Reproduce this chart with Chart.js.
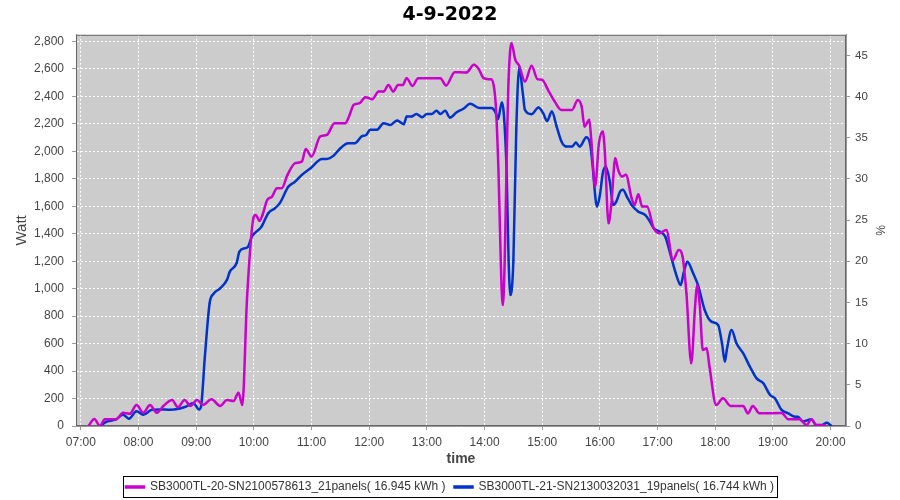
<!DOCTYPE html>
<html>
<head>
<meta charset="utf-8">
<script src="https://cdn.jsdelivr.net/npm/chart.js@4.4.1/dist/chart.umd.min.js"></script>
<style>
  html, body { margin: 0; padding: 0; background: #fff; }
  #wrap { width: 900px; height: 500px; }
</style>
</head>
<body>
<div id="wrap"><canvas id="chart" width="900" height="500"></canvas></div>
<script>
// minutes since midnight / watt
const timesA = [428,434,440,445,457,464,471,478,485,492,499,506,515,521,528,534,541,547,556,565,572,579,584,588,593,600,602,606,609,614,619,624,629,635,643,650,654,660,669,676,684,695,699,704,710,716,723,730,735,740,745,750,755,759,765,771,794,800,809,821,829,834,839,844,847,850,852,854,859,865,868,872,876,882,889,895,900,906,913,920,931,937,941,944,949,951,955,959,963,965,969,972,976,979,983,987,993,996,1000,1004,1009,1016,1022,1029,1036,1042,1046,1050,1055,1059,1061,1064,1067,1071,1074,1081,1088,1096,1109,1114,1119,1126,1149,1156,1168,1175,1180,1185,1194];
const wattsA = [0,51,0,50,50,97,90,153,97,153,97,146,189,136,189,146,189,153,194,146,189,182,243,153,942,1525,1537,1494,1537,1647,1671,1732,1732,1829,1914,1926,2018,1962,2108,2120,2205,2205,2254,2339,2351,2395,2380,2436,2436,2484,2436,2484,2484,2533,2477,2533,2533,2480,2577,2574,2630,2599,2533,2526,2526,2460,2302,1962,882,2521,2788,2667,2623,2509,2623,2526,2521,2448,2363,2302,2302,2375,2327,2181,2230,2084,1744,2060,2145,2011,1477,1623,1950,1865,1817,1829,1659,1610,1688,1598,1598,1440,1404,1428,1209,1282,1234,967,457,869,1027,869,554,566,432,153,202,146,146,92,146,92,95,49,49,7,49,7,5];

const timesB = [440,447,456,464,470,478,485,494,503,513,523,530,537,543,545,549,554,558,565,572,575,582,585,591,594,598,608,615,622,627,636,643,650,659,671,676,683,690,698,705,712,717,721,728,735,742,749,756,759,764,769,775,780,785,790,794,799,804,811,818,825,835,847,851,854,858,860,863,865,867,870,873,876,880,882,889,896,901,905,910,915,920,925,931,935,939,946,950,952,957,960,963,966,970,974,977,981,984,988,993,1000,1007,1012,1016,1022,1028,1033,1040,1044,1047,1051,1057,1062,1069,1076,1083,1087,1090,1092,1097,1102,1109,1116,1123,1130,1137,1142,1149,1156,1163,1166,1171,1180,1185,1191,1196,1201];
const wattsB = [0,32,46,82,53,107,82,118,121,118,128,143,168,121,140,500,894,962,1003,1064,1124,1185,1270,1295,1306,1380,1452,1550,1586,1623,1744,1780,1829,1877,1945,1945,1969,2023,2060,2060,2108,2120,2157,2157,2205,2193,2225,2198,2254,2254,2273,2249,2273,2273,2295,2273,2295,2246,2285,2310,2346,2315,2315,2290,2235,2356,2278,1841,1209,954,1209,2157,2606,2412,2302,2271,2319,2278,2222,2290,2181,2072,2035,2035,2064,2035,2103,2047,1926,1598,1683,1841,1889,1792,1610,1634,1707,1720,1671,1610,1561,1537,1489,1440,1416,1379,1258,1088,1027,1112,1197,1112,1027,845,760,736,602,469,554,700,602,530,432,347,311,226,202,117,92,68,68,32,49,7,7,24,0];

const labelA = 'SB3000TL-20-SN2100578613_21panels( 16.945 kWh )';
const labelB = 'SB3000TL-21-SN2130032031_19panels( 16.744 kWh )';
const hourTicks = [420,480,540,600,660,720,780,840,900,960,1020,1080,1140,1200];
const wattTicks = [0,200,400,600,800,1000,1200,1400,1600,1800,2000,2200,2400,2600,2800];
const pctTicks = [0,5,10,15,20,25,30,35,40,45];

const MAGENTA = '#cc00cc';
const BLUE = '#0033cc';
const FONT = 'Liberation Sans';

function zip(xs, ys) {
    return xs.map((x, i) => ({ x: x, y: ys[i] }));
}

function hhmm(v) {
    const h = Math.floor(v / 60);
    const m = v % 60;
    return String(h).padStart(2, '0') + ':' + String(m).padStart(2, '0');
}

// plot background + border, legend frame
const jfreePlot = {
    id: 'jfreePlot',
    beforeDraw(chart) {
        const { ctx, chartArea: a } = chart;
        ctx.save();
        ctx.fillStyle = '#cccccc';
        ctx.fillRect(a.left, a.top, a.right - a.left, a.bottom - a.top);
        ctx.restore();
    },
    beforeDatasetsDraw(chart) {
        const { ctx, chartArea: a } = chart;
        ctx.save();
        ctx.strokeStyle = '#666666';
        ctx.lineWidth = 1;
        ctx.strokeRect(a.left + 0.5, a.top + 0.5, a.right - a.left - 1, a.bottom - a.top - 1);
        ctx.restore();
    },
    afterDraw(chart) {
        const boxes = chart.legend.legendHitBoxes;
        if (!boxes || !boxes.length) return;
        let l = Infinity, r = -Infinity, t = Infinity, b = -Infinity;
        boxes.forEach(h => {
            l = Math.min(l, h.left); r = Math.max(r, h.left + h.width);
            t = Math.min(t, h.top); b = Math.max(b, h.top + h.height);
        });
        const ctx = chart.ctx;
        ctx.save();
        ctx.strokeStyle = '#000';
        ctx.lineWidth = 1;
        ctx.strokeRect(Math.round(l - 3) + 0.5, Math.round(t - 5) + 0.5, Math.round(r - l + 6), Math.round(b - t + 9));
        ctx.restore();
    }
};

const ctx = document.getElementById('chart');
const chart = new Chart(ctx, {
    type: 'line',
    data: {
        datasets: [
            {
                label: labelA,
                data: zip(timesA, wattsA),
                borderColor: MAGENTA,
                backgroundColor: MAGENTA,
                borderWidth: 2.5,
                pointRadius: 1,
                pointBorderWidth: 0,
                cubicInterpolationMode: 'monotone',
                yAxisID: 'y'
            },
            {
                label: labelB,
                data: zip(timesB, wattsB),
                borderColor: BLUE,
                backgroundColor: BLUE,
                borderWidth: 2.5,
                pointRadius: 1,
                pointBorderWidth: 0,
                cubicInterpolationMode: 'monotone',
                yAxisID: 'y'
            }
        ]
    },
    options: {
        responsive: false,
        animation: false,
        layout: { padding: { left: 0, right: 0, top: 0, bottom: 0 } },
        scales: {
            x: {
                type: 'linear',
                min: 415,
                max: 1216,
                afterBuildTicks: (scale) => { scale.ticks = hourTicks.map(v => ({ value: v })); },
                afterFit: (scale) => { scale.height = 46; },
                ticks: {
                    callback: (v) => hhmm(v),
                    color: '#444',
                    font: { family: FONT, size: 12 },
                    padding: 5,
                    maxRotation: 0,
                    autoSkip: false
                },
                grid: {
                    color: '#ffffff',
                    lineWidth: 1,
                    tickLength: 4,
                    tickColor: '#999',
                    tickBorderDash: []
                },
                border: { display: true, color: '#999', dash: [2, 2] },
                title: {
                    display: true,
                    text: 'time',
                    color: '#444',
                    font: { family: FONT, size: 14, weight: 'bold' },
                    padding: { top: 4, bottom: 4 }
                }
            },
            y: {
                position: 'left',
                min: 0,
                max: 2849,
                afterBuildTicks: (scale) => { scale.ticks = wattTicks.map(v => ({ value: v })); },
                afterFit: (scale) => { scale.width = 76; },
                ticks: {
                    callback: (v) => v.toLocaleString('en-US'),
                    color: '#444',
                    font: { family: FONT, size: 12 },
                    padding: 8
                },
                grid: {
                    color: '#ffffff',
                    lineWidth: 1,
                    tickLength: 4,
                    tickColor: '#999',
                    tickBorderDash: []
                },
                border: { display: true, color: '#999', dash: [2, 2] },
                title: {
                    display: true,
                    text: 'Watt',
                    color: '#444',
                    font: { family: FONT, size: 15 },
                    padding: { top: 13, bottom: 4 }
                }
            },
            y1: {
                position: 'right',
                min: 0,
                max: 47.5,
                afterBuildTicks: (scale) => { scale.ticks = pctTicks.map(v => ({ value: v })); },
                afterFit: (scale) => { scale.width = 54; },
                ticks: {
                    color: '#444',
                    font: { family: FONT, size: 11.5 },
                    padding: 5
                },
                grid: {
                    drawOnChartArea: false,
                    tickLength: 4,
                    tickColor: '#999'
                },
                border: { display: true, color: '#999' },
                title: {
                    display: true,
                    text: '%',
                    color: '#444',
                    font: { family: FONT, size: 12 },
                    padding: { top: 13, bottom: 0 }
                }
            }
        },
        plugins: {
            title: {
                display: true,
                text: '4-9-2022',
                color: '#000',
                font: { family: 'DejaVu Sans', size: 19, weight: 'bold' },
                padding: { top: 4, bottom: 8 }
            },
            legend: {
                display: true,
                position: 'bottom',
                maxHeight: 28,
                labels: {
                    color: '#333',
                    font: { family: FONT, size: 12 },
                    boxWidth: 18,
                    boxHeight: 1,
                    padding: 9
                }
            },
            tooltip: { enabled: false }
        }
    },
    plugins: [jfreePlot]
});
</script>
</body>
</html>
